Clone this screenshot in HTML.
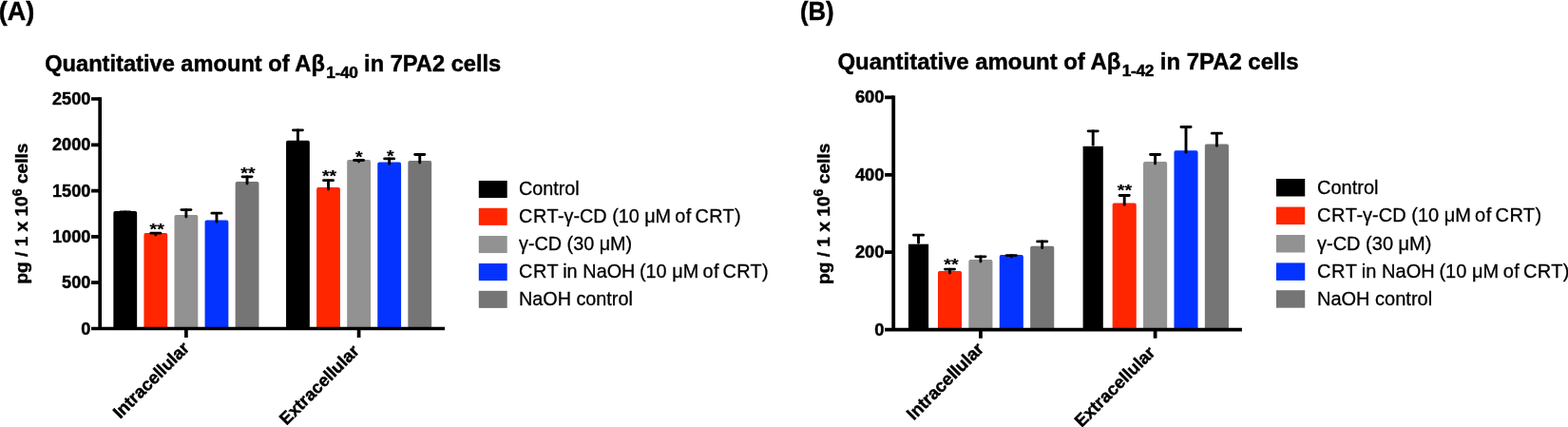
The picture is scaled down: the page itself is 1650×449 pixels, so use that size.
<!DOCTYPE html>
<html lang="en">
<head>
<meta charset="utf-8">
<title>Quantitative amount of Aβ in 7PA2 cells</title>
<style>
html,body{margin:0;padding:0;background:#ffffff;overflow:hidden}
body{width:1650px;height:449px}
svg{display:block;position:absolute;left:0;top:0}
text{font-family:"Liberation Sans",sans-serif;fill:#000}
text{stroke:#000;stroke-width:0.3px;stroke-linejoin:round}
text[font-weight="bold"]{stroke-width:0.45px}
</style>
</head>
<body>
<svg width="1650" height="449" viewBox="0 0 1650 449">
<rect width="1650" height="449" fill="#ffffff"/>
<rect x="121.21" y="223.85" width="21.1" height="119.8" fill="#000000" stroke="#000000" stroke-width="3.7" stroke-linejoin="round"/>
<rect x="153.28" y="246.95" width="21.1" height="96.7" fill="#ff2600" stroke="#ff2600" stroke-width="3.7" stroke-linejoin="round"/>
<rect x="185.35" y="227.85" width="21.1" height="115.8" fill="#929292" stroke="#929292" stroke-width="3.7" stroke-linejoin="round"/>
<rect x="217.42" y="233.25" width="21.1" height="110.4" fill="#0433ff" stroke="#0433ff" stroke-width="3.7" stroke-linejoin="round"/>
<rect x="249.49" y="192.85" width="21.1" height="150.8" fill="#757575" stroke="#757575" stroke-width="3.7" stroke-linejoin="round"/>
<path d="M126.71 222.8H136.81" fill="none" stroke="#000" stroke-width="2.8" stroke-linecap="round"/>
<path d="M131.76 222.95V223.95" fill="none" stroke="#000" stroke-width="2.9" stroke-linecap="round"/>
<path d="M158.78 245.2H168.88" fill="none" stroke="#000" stroke-width="2.8" stroke-linecap="round"/>
<path d="M163.83 245.35V247.05" fill="none" stroke="#000" stroke-width="2.9" stroke-linecap="round"/>
<path d="M190.85 220.6H200.95" fill="none" stroke="#000" stroke-width="2.8" stroke-linecap="round"/>
<path d="M195.9 220.75V227.95" fill="none" stroke="#000" stroke-width="2.9" stroke-linecap="round"/>
<path d="M222.92 224.2H233.02" fill="none" stroke="#000" stroke-width="2.8" stroke-linecap="round"/>
<path d="M227.97 224.35V233.35" fill="none" stroke="#000" stroke-width="2.9" stroke-linecap="round"/>
<path d="M254.99 185.8H265.09" fill="none" stroke="#000" stroke-width="2.8" stroke-linecap="round"/>
<path d="M260.04 185.95V192.95" fill="none" stroke="#000" stroke-width="2.9" stroke-linecap="round"/>
<text transform="translate(165.2 246.65) scale(1 0.88)" font-size="19.5" font-weight="bold" text-anchor="middle" style="stroke-width:0.25px">**</text>
<text transform="translate(260.9 187.65) scale(1 0.88)" font-size="19.5" font-weight="bold" text-anchor="middle" style="stroke-width:0.25px">**</text>
<rect x="302.91" y="149.55" width="21.1" height="194.1" fill="#000000" stroke="#000000" stroke-width="3.7" stroke-linejoin="round"/>
<rect x="334.98" y="198.95" width="21.1" height="144.7" fill="#ff2600" stroke="#ff2600" stroke-width="3.7" stroke-linejoin="round"/>
<rect x="367.05" y="169.85" width="21.1" height="173.8" fill="#929292" stroke="#929292" stroke-width="3.7" stroke-linejoin="round"/>
<rect x="399.12" y="172.25" width="21.1" height="171.4" fill="#0433ff" stroke="#0433ff" stroke-width="3.7" stroke-linejoin="round"/>
<rect x="431.19" y="170.95" width="21.1" height="172.7" fill="#757575" stroke="#757575" stroke-width="3.7" stroke-linejoin="round"/>
<path d="M308.41 136.8H318.51" fill="none" stroke="#000" stroke-width="2.8" stroke-linecap="round"/>
<path d="M313.46 136.95V149.65" fill="none" stroke="#000" stroke-width="2.9" stroke-linecap="round"/>
<path d="M340.48 189.7H350.58" fill="none" stroke="#000" stroke-width="2.8" stroke-linecap="round"/>
<path d="M345.53 189.85V199.05" fill="none" stroke="#000" stroke-width="2.9" stroke-linecap="round"/>
<path d="M372.55 168.5H382.65" fill="none" stroke="#000" stroke-width="2.8" stroke-linecap="round"/>
<path d="M377.6 168.65V169.95" fill="none" stroke="#000" stroke-width="2.9" stroke-linecap="round"/>
<path d="M404.62 166.9H414.72" fill="none" stroke="#000" stroke-width="2.8" stroke-linecap="round"/>
<path d="M409.67 167.05V172.35" fill="none" stroke="#000" stroke-width="2.9" stroke-linecap="round"/>
<path d="M436.69 162.5H446.79" fill="none" stroke="#000" stroke-width="2.8" stroke-linecap="round"/>
<path d="M441.74 162.65V171.05" fill="none" stroke="#000" stroke-width="2.9" stroke-linecap="round"/>
<text transform="translate(346.5 191.15) scale(1 0.88)" font-size="19.5" font-weight="bold" text-anchor="middle" style="stroke-width:0.25px">**</text>
<text transform="translate(377.7 170.65) scale(1 0.88)" font-size="19.5" font-weight="bold" text-anchor="middle" style="stroke-width:0.25px">*</text>
<text transform="translate(410.7 169.65) scale(1 0.88)" font-size="19.5" font-weight="bold" text-anchor="middle" style="stroke-width:0.25px">*</text>
<path d="M96 345.5H468M105.2 345.5V102.15" fill="none" stroke="#000" stroke-width="3.7"/>
<text x="95.3" y="352" font-size="18.1" font-weight="bold" text-anchor="end">0</text>
<text x="95.3" y="303.4" font-size="18.1" font-weight="bold" text-anchor="end">500</text>
<text x="95.3" y="255.1" font-size="18.1" font-weight="bold" text-anchor="end">1000</text>
<text x="95.3" y="206.9" font-size="18.1" font-weight="bold" text-anchor="end">1500</text>
<text x="95.3" y="158.4" font-size="18.1" font-weight="bold" text-anchor="end">2000</text>
<text x="95.3" y="109.7" font-size="18.1" font-weight="bold" text-anchor="end">2500</text>
<path d="M96 297.2H105.2M96 248.9H105.2M96 200.6H105.2M96 152.3H105.2M96 104H105.2M195.9 345.5V355M377.6 345.5V355" fill="none" stroke="#000" stroke-width="3.7"/>
<text transform="translate(200.3 367.1) rotate(-45)" font-size="18.45" font-weight="bold" text-anchor="end">Intracellular</text>
<text transform="translate(379 370.3) rotate(-45)" font-size="18.25" font-weight="bold" text-anchor="end">Extracellular</text>
<text transform="translate(29.4 298.6) rotate(-90)" font-size="19.1" font-weight="bold">pg / 1 x 10<tspan font-size="14.13" dy="-6.88">6</tspan><tspan dy="6.88"> cells</tspan></text>
<text x="47.2" y="74.7" font-size="23.65" font-weight="bold">Quantitative amount of Aβ<tspan font-size="17.4" dx="1.3" dy="7" letter-spacing="-0.35">1-40</tspan><tspan dy="-7"> in 7PA2 cells</tspan></text>
<text x="-1.2" y="21.4" font-size="27" font-weight="bold">(A)</text>
<rect x="503.8" y="190" width="29.9" height="18.1" fill="#000000"/>
<text x="546" y="205" font-size="19.8">Control</text>
<rect x="503.8" y="218.8" width="29.9" height="18.1" fill="#ff2600"/>
<text x="546" y="233.8" font-size="19.8"><tspan letter-spacing="0.67">CRT</tspan><tspan dx="-1.3">-γ-CD (10 </tspan><tspan dx="0">μM </tspan><tspan dx="-1.33" letter-spacing="0.5">of</tspan><tspan dx="-2.1" letter-spacing="0.36"> CRT)</tspan></text>
<rect x="503.8" y="248" width="29.9" height="18.1" fill="#929292"/>
<text x="546" y="263" font-size="19.8">γ-CD (30 μM)</text>
<rect x="503.8" y="277" width="29.9" height="18.1" fill="#0433ff"/>
<text x="546" y="292" font-size="19.8"><tspan letter-spacing="0.67">CRT</tspan><tspan dx="-1.6"> in </tspan><tspan dx="0.27">NaOH </tspan><tspan dx="-0.8">(10 </tspan><tspan dx="0.13">μM </tspan><tspan dx="-1.07" letter-spacing="0.5">of</tspan><tspan dx="-2.3" letter-spacing="0.36"> CRT)</tspan></text>
<rect x="503.8" y="305.8" width="29.9" height="18.1" fill="#757575"/>
<text x="546" y="320.8" font-size="19.8">NaOH control</text>
<rect x="955.9" y="256.7" width="21.2" height="89.9" fill="#000000"/>
<rect x="988.8" y="286.95" width="21.4" height="57.8" fill="#ff2600" stroke="#ff2600" stroke-width="3.7" stroke-linejoin="round"/>
<rect x="1021.2" y="274.85" width="21.4" height="69.9" fill="#929292" stroke="#929292" stroke-width="3.7" stroke-linejoin="round"/>
<rect x="1053.6" y="269.95" width="21.4" height="74.8" fill="#0433ff" stroke="#0433ff" stroke-width="3.7" stroke-linejoin="round"/>
<rect x="1086" y="260.55" width="21.4" height="84.2" fill="#757575" stroke="#757575" stroke-width="3.7" stroke-linejoin="round"/>
<path d="M961.4 247.2H971.6" fill="none" stroke="#000" stroke-width="2.8" stroke-linecap="round"/>
<path d="M966.5 247.35V255.25" fill="none" stroke="#000" stroke-width="2.9" stroke-linecap="round"/>
<path d="M994.4 283.1H1004.6" fill="none" stroke="#000" stroke-width="2.8" stroke-linecap="round"/>
<path d="M999.5 283.25V287.05" fill="none" stroke="#000" stroke-width="2.9" stroke-linecap="round"/>
<path d="M1026.8 269.8H1037" fill="none" stroke="#000" stroke-width="2.8" stroke-linecap="round"/>
<path d="M1031.9 269.95V274.95" fill="none" stroke="#000" stroke-width="2.9" stroke-linecap="round"/>
<path d="M1059.2 268.6H1069.4" fill="none" stroke="#000" stroke-width="2.8" stroke-linecap="round"/>
<path d="M1064.3 268.75V270.05" fill="none" stroke="#000" stroke-width="2.9" stroke-linecap="round"/>
<path d="M1091.6 253.9H1101.8" fill="none" stroke="#000" stroke-width="2.8" stroke-linecap="round"/>
<path d="M1096.7 254.05V260.65" fill="none" stroke="#000" stroke-width="2.9" stroke-linecap="round"/>
<text transform="translate(1000.9 284.15) scale(1 0.88)" font-size="19.7" font-weight="bold" text-anchor="middle" style="stroke-width:0.25px">**</text>
<rect x="1139.6" y="153.8" width="21.2" height="192.8" fill="#000000"/>
<rect x="1172.5" y="215.25" width="21.4" height="129.5" fill="#ff2600" stroke="#ff2600" stroke-width="3.7" stroke-linejoin="round"/>
<rect x="1204.9" y="171.95" width="21.4" height="172.8" fill="#929292" stroke="#929292" stroke-width="3.7" stroke-linejoin="round"/>
<rect x="1237.3" y="160.05" width="21.4" height="184.7" fill="#0433ff" stroke="#0433ff" stroke-width="3.7" stroke-linejoin="round"/>
<rect x="1269.7" y="153.25" width="21.4" height="191.5" fill="#757575" stroke="#757575" stroke-width="3.7" stroke-linejoin="round"/>
<path d="M1145.1 137.8H1155.3" fill="none" stroke="#000" stroke-width="2.8" stroke-linecap="round"/>
<path d="M1150.2 137.95V152.35" fill="none" stroke="#000" stroke-width="2.9" stroke-linecap="round"/>
<path d="M1178.1 205.5H1188.3" fill="none" stroke="#000" stroke-width="2.8" stroke-linecap="round"/>
<path d="M1183.2 205.65V215.35" fill="none" stroke="#000" stroke-width="2.9" stroke-linecap="round"/>
<path d="M1210.5 162.5H1220.7" fill="none" stroke="#000" stroke-width="2.8" stroke-linecap="round"/>
<path d="M1215.6 162.65V172.05" fill="none" stroke="#000" stroke-width="2.9" stroke-linecap="round"/>
<path d="M1242.9 133.5H1253.1" fill="none" stroke="#000" stroke-width="2.8" stroke-linecap="round"/>
<path d="M1248 133.65V160.15" fill="none" stroke="#000" stroke-width="2.9" stroke-linecap="round"/>
<path d="M1275.3 140.2H1285.5" fill="none" stroke="#000" stroke-width="2.8" stroke-linecap="round"/>
<path d="M1280.4 140.35V153.35" fill="none" stroke="#000" stroke-width="2.9" stroke-linecap="round"/>
<text transform="translate(1183.5 205.65) scale(1 0.88)" font-size="19.7" font-weight="bold" text-anchor="middle" style="stroke-width:0.25px">**</text>
<path d="M931 346.6H1306.9M940.2 346.6V100.5" fill="none" stroke="#000" stroke-width="3.8"/>
<text x="930.4" y="353.2" font-size="18.3" font-weight="bold" text-anchor="end">0</text>
<text x="930.4" y="271.4" font-size="18.3" font-weight="bold" text-anchor="end">200</text>
<text x="930.4" y="190" font-size="18.3" font-weight="bold" text-anchor="end">400</text>
<text x="930.4" y="108.3" font-size="18.3" font-weight="bold" text-anchor="end">600</text>
<path d="M931 265.2H940.2M931 183.8H940.2M931 102.4H940.2M1031.9 346.6V355.8M1215.6 346.6V355.8" fill="none" stroke="#000" stroke-width="3.8"/>
<text transform="translate(1036.2 368.1) rotate(-45)" font-size="18.65" font-weight="bold" text-anchor="end">Intracellular</text>
<text transform="translate(1216.6 371.8) rotate(-45)" font-size="18.45" font-weight="bold" text-anchor="end">Extracellular</text>
<text transform="translate(872.9 299) rotate(-90)" font-size="19.15" font-weight="bold">pg / 1 x 10<tspan font-size="14.17" dy="-6.89">6</tspan><tspan dy="6.89"> cells</tspan></text>
<text x="881.5" y="73.3" font-size="23.92" font-weight="bold">Quantitative amount of Aβ<tspan font-size="17.4" dx="1.3" dy="7" letter-spacing="-0.35">1-42</tspan><tspan dy="-7"> in 7PA2 cells</tspan></text>
<text x="841.9" y="21.1" font-size="27" font-weight="bold" textLength="35.6" lengthAdjust="spacingAndGlyphs">(B)</text>
<rect x="1343" y="188" width="30.2" height="18.5" fill="#000000"/>
<text x="1386" y="203.7" font-size="20">Control</text>
<rect x="1343" y="217.6" width="30.2" height="18.5" fill="#ff2600"/>
<text x="1386" y="233.3" font-size="20"><tspan letter-spacing="0.67">CRT</tspan><tspan dx="-1.3">-γ-CD (10 </tspan><tspan dx="0">μM </tspan><tspan dx="-1.33" letter-spacing="0.5">of</tspan><tspan dx="-2.1" letter-spacing="0.36"> CRT)</tspan></text>
<rect x="1343" y="247" width="30.2" height="18.5" fill="#929292"/>
<text x="1386" y="262.7" font-size="20">γ-CD (30 μM)</text>
<rect x="1343" y="276.4" width="30.2" height="18.5" fill="#0433ff"/>
<text x="1386" y="292.1" font-size="20"><tspan letter-spacing="0.67">CRT</tspan><tspan dx="-1.6"> in </tspan><tspan dx="0.27">NaOH </tspan><tspan dx="-0.8">(10 </tspan><tspan dx="0.13">μM </tspan><tspan dx="-1.07" letter-spacing="0.5">of</tspan><tspan dx="-2.3" letter-spacing="0.36"> CRT)</tspan></text>
<rect x="1343" y="305.2" width="30.2" height="18.5" fill="#757575"/>
<text x="1386" y="320.9" font-size="20">NaOH control</text>
</svg>
</body>
</html>
